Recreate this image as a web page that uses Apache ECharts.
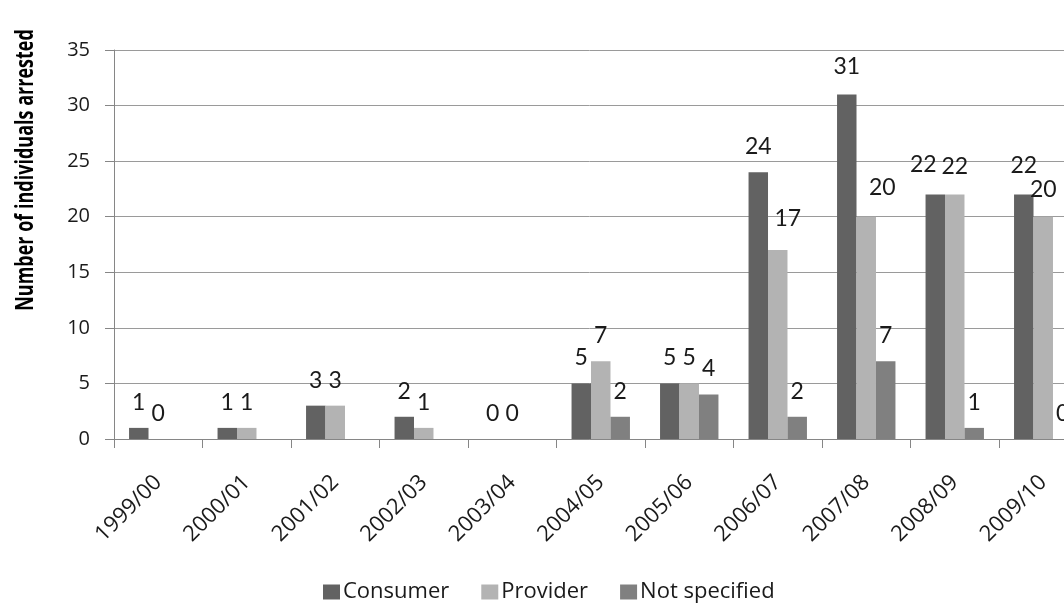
<!DOCTYPE html>
<html>
<head>
<meta charset="utf-8">
<script src="https://cdn.jsdelivr.net/npm/echarts@6/dist/echarts.min.js"></script>
<style>
  html, body { margin: 0; padding: 0; background: #fff; }
  #chart { width: 1064px; height: 603px; }
</style>
</head>
<body>
<div id="chart"></div>
<script>
// Financial years
const categories = ['1999/00', '2000/01', '2001/02', '2002/03', '2003/04', '2004/05',
                    '2005/06', '2006/07', '2007/08', '2008/09', '2009/10'];
// Number of individuals arrested, by role
const consumer     = [1, 1, 3, 2, 0, 5, 5, 24, 31, 22, 22];
const provider     = [0, 1, 3, 1, 0, 7, 5, 17, 20, 22, 20];
const notSpecified = [null, null, null, null, null, 2, 4, 2, 7, 1, 0];
// Value axis ticks
const yTicks = [0, 5, 10, 15, 20, 25, 30, 35];

// Hand-placed label nudges [dx, dy] so neighbouring labels do not collide
const labelNudge = {
  consumer: { 8: [0, -2], 9: [-12, -4], 10: [0, -3] },
  provider: { 7: [10, -6], 8: [16, -4], 9: [0, -2], 10: [0, -2] }
};

const SANS = 'Open Sans';

function buildData(values, nudges) {
  return values.map((v, i) => {
    const n = nudges && nudges[i];
    return n ? { value: v, label: { offset: n } } : v;
  });
}

const labelStyle = {
  show: true,
  position: 'top',
  distance: 14,
  fontFamily: 'Lato',
  fontSize: 23,
  color: '#1a1a1a'
};

const chart = echarts.init(document.getElementById('chart'), null, { renderer: 'canvas' });

chart.setOption({
  animation: false,
  backgroundColor: '#ffffff',
  textStyle: { fontFamily: SANS },
  // plot area runs past the right edge of the page, so the last group is cut
  grid: {
    left: 114, width: 973.5, top: 50, bottom: 164,
    containLabel: false, outerBoundsMode: 'none'
  },
  legend: {
    left: 318,
    top: 576,
    itemWidth: 17,
    itemHeight: 15,
    itemGap: 32,
    icon: 'rect',
    textStyle: { fontFamily: SANS, fontSize: 22, color: '#1a1a1a', padding: [0, 0, 0, -2] },
    data: ['Consumer', 'Provider', 'Not specified']
  },
  graphic: [{
    type: 'text',
    x: 26,
    y: 170,
    rotation: Math.PI / 2,
    scaleY: 1.35,
    style: {
      text: 'Number of individuals arrested',
      fontFamily: SANS,
      fontWeight: 'bold',
      fontSize: 18,
      fill: '#000',
      align: 'center',
      verticalAlign: 'middle'
    }
  }],
  xAxis: {
    type: 'category',
    data: categories,
    axisLine: { lineStyle: { color: '#868686', width: 1 } },
    axisTick: { show: true, length: 9, lineStyle: { color: '#868686' } },
    axisLabel: {
      rotate: 45,
      margin: 40,
      fontFamily: SANS,
      fontSize: 22,
      color: '#1a1a1a',
      interval: 0
    }
  },
  yAxis: {
    type: 'value',
    min: yTicks[0],
    max: yTicks[yTicks.length - 1],
    interval: 5,
    axisLine: { show: true, lineStyle: { color: '#868686', width: 1 } },
    axisTick: { show: true, length: 9, lineStyle: { color: '#868686' } },
    axisLabel: { margin: 24, fontFamily: SANS, fontSize: 20, color: '#1a1a1a' },
    splitLine: { show: true, lineStyle: { color: '#9a9a9a', width: 1 } }
  },
  series: [
    {
      name: 'Consumer', type: 'bar',
      data: buildData(consumer, labelNudge.consumer),
      barWidth: '22%', barGap: '0%',
      itemStyle: { color: '#626262' },
      label: labelStyle
    },
    {
      name: 'Provider', type: 'bar',
      data: buildData(provider, labelNudge.provider),
      barWidth: '22%', barGap: '0%',
      itemStyle: { color: '#b3b3b3' },
      label: labelStyle
    },
    {
      name: 'Not specified', type: 'bar',
      data: buildData(notSpecified, null),
      barWidth: '22%', barGap: '0%',
      itemStyle: { color: '#808080' },
      label: labelStyle
    }
  ]
});
</script>
</body>
</html>
